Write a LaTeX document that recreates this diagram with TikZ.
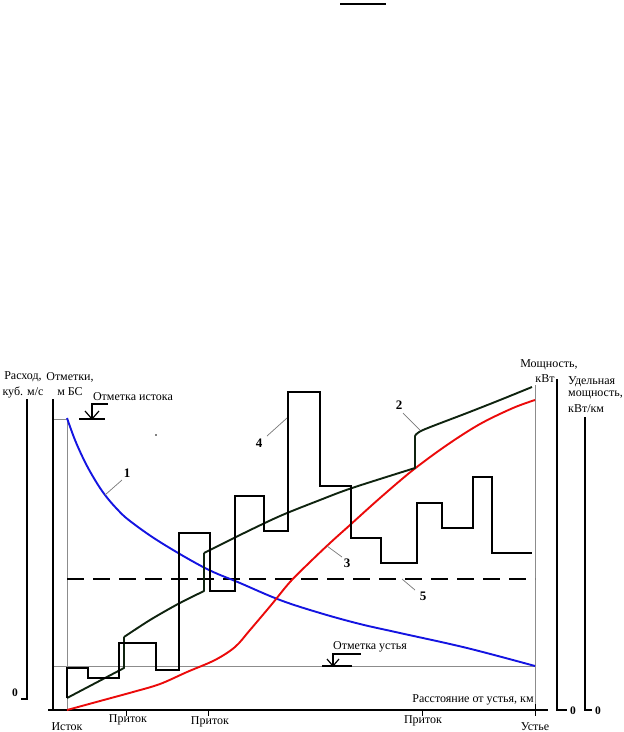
\documentclass[tikz,border=0pt]{standalone}
\usepackage{fontspec}
\setmainfont{Liberation Serif}
\definecolor{gridgray}{RGB}{140,140,140}
\definecolor{leadgray}{RGB}{120,120,120}
\definecolor{qblue}{RGB}{20,20,225}
\definecolor{qred}{RGB}{235,10,10}
\definecolor{qdark}{RGB}{15,35,15}
\begin{document}
\begin{tikzpicture}[x=1pt,y=-1pt,
  axisline/.style={line width=2.2pt},
  thinline/.style={draw=gridgray,line width=0.9pt},
  lbl/.style={font=\fontsize{12}{13}\selectfont, inner sep=0pt},
  num/.style={font=\fontsize{13}{14}\selectfont\bfseries, inner sep=0pt},
  zero/.style={font=\fontsize{11.5}{12}\selectfont\bfseries, inner sep=0pt},
  leader/.style={draw=leadgray,line width=0.7pt},
  curveline/.style={line width=1.9pt, line join=round},
  markline/.style={line width=1.2pt},
  tickline/.style={line width=1pt}]
\useasboundingbox (0,0) rectangle (624,732);

% top stroke
\draw[line width=2pt] (340,4) -- (386,4);

% thin grey reference lines
\draw[thinline] (53,419) -- (67,419) -- (67,710);
\draw[thinline] (53,666) -- (535,666);
\draw[thinline] (535,385) -- (535,710);

% axes
\draw[axisline] (21,699) -- (27,699) -- (27,399);
\draw[axisline] (53,399) -- (53,710);
\draw[axisline] (48,710) -- (548,710);
\draw[axisline] (557,379) -- (557,710) -- (567,710);
\draw[axisline] (585,417) -- (585,710) -- (592,710);

% ticks
\draw[tickline] (126,710) -- (126,716);
\draw[tickline] (208,710) -- (208,716);
\draw[tickline] (422,710) -- (422,716);
\draw[tickline] (535,704) -- (535,716);

% dashed line 5
\draw[line width=1.2pt, dash pattern=on 17pt off 9pt] (67,579) -- (535,579);

% level markers
\draw[markline] (79,419) -- (105,419);
\draw[markline] (85,411) -- (92,419) -- (99,411);
\draw[markline] (92,419) -- (92,404) -- (108,404);
\draw[markline] (322,666) -- (352,666);
\draw[markline] (327,659) -- (333,666) -- (339,659);
\draw[markline] (333,666) -- (333,654) -- (361,654);

% stray dot
\fill (156,435) circle (0.8pt);

% curve 1 (blue)
\draw[curveline, qblue] plot[smooth, tension=0.6] coordinates {
 (67,418) (75,440) (85,462) (95,480) (105,495) (117,509) (130,521) (160,542)
 (205,568) (240,583) (280,600) (320,613) (360,624) (400,633) (467,648) (535,666)};

% curve 3 (red)
\draw[curveline, qred] plot[smooth, tension=0.55] coordinates {
 (67,710) (100,701) (133,692) (160,684) (187,672) (215,660) (235,647) (250,630)
 (272,604) (290,582) (310,562) (330,543) (350,525) (380,498) (413,470)
 (447,445) (480,424) (513,408) (535,400)};

% curve 2 (dark)
\draw[curveline, qdark] (67,698) -- (124,668) -- (124,637)
  plot[smooth, tension=0.5] coordinates {(124,637) (150,620) (178,604) (204,591)}
  -- (204,553)
  plot[smooth, tension=0.5] coordinates {(204,553) (240,535) (280,516) (320,500) (352,488) (415,468)}
  -- (415,436)
  plot[smooth, tension=0.5] coordinates {(415,436) (423,430) (467,413) (500,400) (532,387)};

% staircase 4
\draw[line width=2.2pt, line join=miter] (67,698) -- (67,668) -- (88,668) -- (88,678) -- (119,678)
 -- (119,643) -- (156,643) -- (156,670) -- (179,670) -- (179,533) -- (210,533)
 -- (210,591) -- (235,591) -- (235,496) -- (264,496) -- (264,531) -- (288,531)
 -- (288,392) -- (320,392) -- (320,486) -- (351,486) -- (351,538) -- (381,538)
 -- (381,563) -- (417,563) -- (417,503) -- (442,503) -- (442,528) -- (473,528)
 -- (473,477) -- (492,477) -- (492,553) -- (532,553);

% leaders
\draw[leader] (122,480) -- (105,495);
\draw[leader] (267,436) -- (287,418);
\draw[leader] (403,413) -- (420,430);
\draw[leader] (342,557) -- (327,546);
\draw[leader] (415,590) -- (402,579);

% numbers
\node[num] (n1) at (127,473) {1};
\node[num] (n4) at (259,443) {4};
\node[num] (n2) at (399,405) {2};
\node[num] (n3) at (347,563) {3};
\node[num] (n5) at (423,596) {5};

% texts
\node[lbl] (t1) at (23,377) {Расход,};
\node[lbl] (t2) at (23,392) {куб. м/с};
\node[lbl] (t3) at (70,377) {Отметки,};
\node[lbl] (t4) at (70,392) {м БС};
\node[lbl] (t5) at (133,397) {Отметка истока};
\node[lbl] (t6) at (370,647) {Отметка устья};
\node[lbl] (t7) at (473,700) {Расстояние от устья, км};
\node[lbl] (t8) at (67,727) {Исток};
\node[lbl] (t9) at (128,720) {Приток};
\node[lbl] (t10) at (210,722) {Приток};
\node[lbl] (t11) at (423,721) {Приток};
\node[lbl] (t12) at (535,727) {Устье};
\node[lbl] (t13) at (549,365) {Мощность,};
\node[lbl] (t14) at (545,379) {кВт};
\node[lbl, anchor=west] (t15) at (568,382) {Удельная};
\node[lbl, anchor=west] (t16) at (568,395) {мощность,};
\node[lbl, anchor=west] (t17) at (568,409) {кВт/км};

% zeros
\node[zero] (z1) at (15,693) {0};
\node[zero] (z2) at (573,711) {0};
\node[zero] (z3) at (598,711) {0};
\end{tikzpicture}
\end{document}
